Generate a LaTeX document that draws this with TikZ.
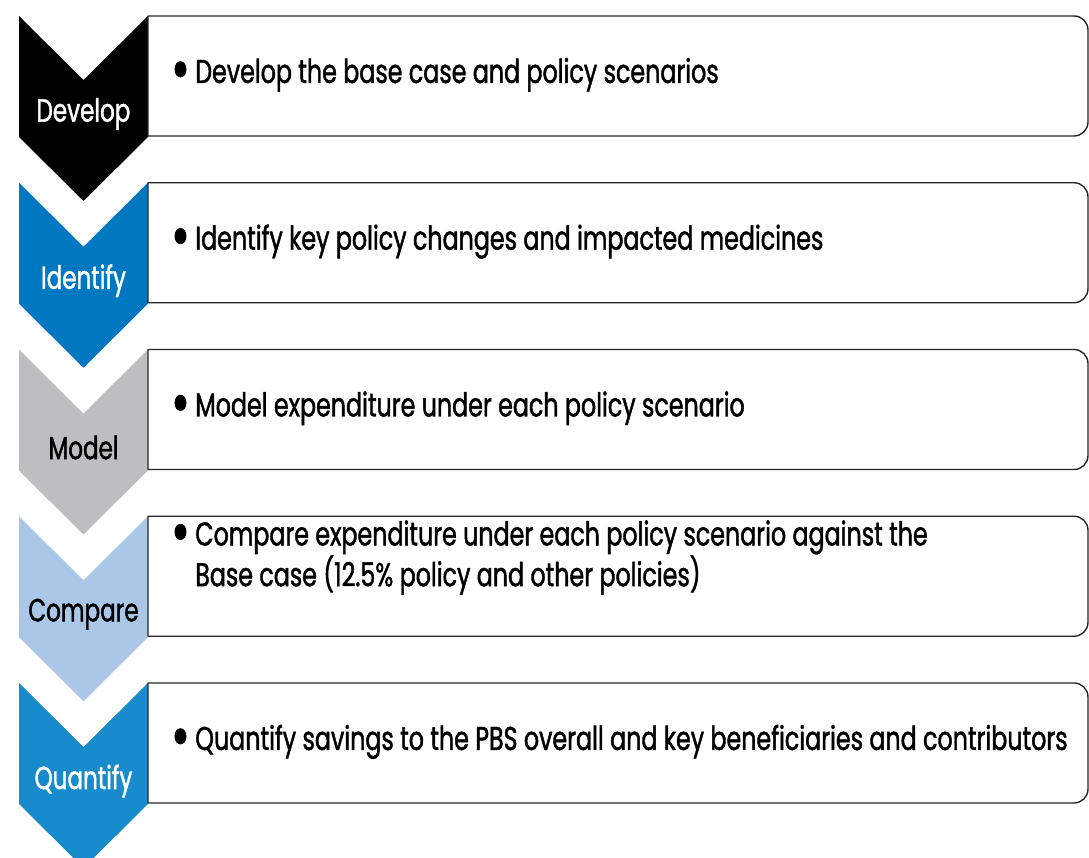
\documentclass[tikz,border=0pt]{standalone}
\usepackage{graphicx}
\usepackage{fontspec}
\setmainfont{Poppins}[FakeStretch=0.72, FakeBold=1.3]
\definecolor{devcol}{RGB}{0,0,0}
\definecolor{idcol}{RGB}{0,120,193}
\definecolor{modcol}{RGB}{188,190,192}
\definecolor{cmpcol}{RGB}{170,199,232}
\definecolor{qcol}{RGB}{24,139,204}
\newcommand{\bigdot}{\raisebox{-0.22em}{\scalebox{1.9}{\textbullet}}\,}
\tikzset{
  stepbox/.style={draw=black!85, line width=1.4pt, fill=white},
  steplab/.style={inner sep=0pt},
  steptxt/.style={inner sep=0pt, anchor=base west, align=left}
}
\begin{document}
\begin{tikzpicture}[x=1pt, y=1pt, line join=round, font=\fontsize{33}{36}\selectfont]
	\useasboundingbox (0,0) rectangle (1089,858);
	\foreach \i/\col/\tcol/\lab/\off/\txt in {%
		0/devcol/white/Develop/67/{Develop the base case and policy scenarios},
		1/idcol/white/Identify/67/{Identify key policy changes and impacted medicines},
		2/modcol/black/Model/67/{Model expenditure under each policy scenario},
		3/cmpcol/black/Compare/70/{Compare expenditure under each policy scenario against the\\\phantom{\bigdot}Base case (12.5\% policy and other policies)},
		4/qcol/white/Quantify/67/{Quantify savings to the PBS overall and key beneficiaries and contributors}}{
		\pgfmathsetmacro{\T}{842-166.75*\i}
		% chevron
		\fill[\col] (19,\T) -- (83.5,\T-64) -- (148,\T) -- (148,\T-121) -- (83.5,\T-185) -- (19,\T-121) -- cycle;
		% box, rounded on the right only
		\draw[stepbox] (148,\T) -- (1074,\T) arc[start angle=90, end angle=0, radius=14]
			-- (1088,\T-106) arc[start angle=0, end angle=-90, radius=14] -- (148,\T-120) -- cycle;
		\node[steplab, text=\tcol, font=\fontsize{32}{36}\selectfont] (lab\i) at (83.5,\T-98) {\lab};
		\node[steptxt] (txt\i) at (171,\T-\off) {\bigdot\txt};
	}
\end{tikzpicture}
\end{document}
